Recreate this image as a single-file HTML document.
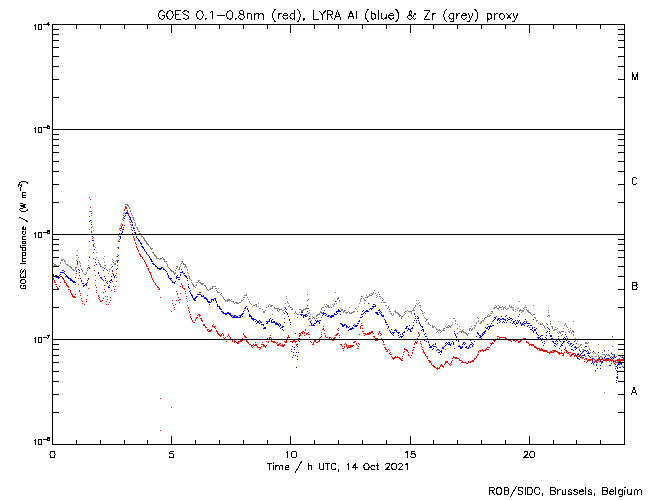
<!DOCTYPE html>
<html><head><meta charset="utf-8"><title>GOES / LYRA proxy</title>
<style>html,body{margin:0;padding:0;background:#fff;font-family:"Liberation Sans",sans-serif}svg{display:block}</style></head><body>
<svg width="650" height="500" viewBox="0 0 650 500" shape-rendering="crispEdges">
<rect x="0" y="0" width="650" height="500" fill="#fff"/>
<g fill="none" stroke-width="1" transform="translate(0,0.5)">
<path d="M53 274h1M53 275h1M54 276h1M55 275h1M55 276h1M56 275h1M56 277h1M57 277h1M58 276h1M58 277h1M58 278h1M59 275h1M59 277h1M60 272h1M60 274h1M61 272h1M62 270h1M62 272h1M63 270h1M63 272h1M64 271h1M64 273h1M65 274h1M65 276h1M66 275h1M66 276h1M67 276h1M67 277h1M68 277h1M68 278h1M69 278h1M70 278h1M70 279h1M70 280h1M71 279h1M71 280h1M72 280h1M72 281h1M73 281h1M73 282h1M74 281h1M74 282h1M75 277h1M75 282h1M76 271h1M77 261h1M77 263h1M78 269h1M79 270h1M79 272h1M79 275h1M80 278h1M81 280h1M81 281h1M82 283h1M83 283h1M83 285h1M83 286h1M84 285h1M85 284h1M86 283h1M86 284h1M86 285h1M87 280h1M87 282h1M88 278h1M89 221h1M89 241h1M89 257h1M89 268h1M90 220h1M91 224h1M91 227h1M91 231h1M92 236h1M92 240h1M93 240h1M93 244h1M93 245h1M94 249h1M95 259h1M95 262h1M96 264h1M98 272h1M98 273h1M99 275h1M100 277h1M101 277h1M101 278h1M102 279h1M103 270h1M103 280h1M104 268h1M104 276h1M105 278h1M105 280h1M106 282h1M107 281h1M107 283h1M108 286h1M108 287h1M109 281h1M109 285h1M109 287h1M110 280h1M110 282h1M111 276h1M111 279h1M111 280h1M112 266h1M112 271h1M113 274h1M113 275h1M114 276h1M114 277h1M115 275h1M116 269h1M116 273h1M117 261h1M117 265h1M118 247h1M118 255h1M118 260h1M119 239h1M119 241h1M120 236h1M120 237h1M120 238h1M121 233h1M121 234h1M122 229h1M122 231h1M122 232h1M123 227h1M123 229h1M124 216h1M124 218h1M124 225h1M125 213h1M125 215h1M126 212h1M126 213h1M127 213h1M128 213h1M128 214h1M128 215h1M129 216h1M130 217h1M130 218h1M130 219h1M131 220h1M131 221h1M132 222h1M132 224h1M132 225h1M133 227h1M133 228h1M134 228h1M134 230h1M134 232h1M135 232h1M135 233h1M136 234h1M136 236h1M136 237h1M137 238h1M138 239h1M138 240h1M139 240h1M139 241h1M140 242h1M140 243h1M141 243h1M141 244h1M141 246h1M142 246h1M142 247h1M143 247h1M143 248h1M144 249h1M144 250h1M145 251h1M146 252h1M146 253h1M147 254h1M148 255h1M149 256h1M149 257h1M150 258h1M150 259h1M151 259h1M151 260h1M151 261h1M152 261h1M152 263h1M153 263h1M153 264h1M154 264h1M155 265h1M155 266h1M156 266h1M157 267h1M157 268h1M158 268h1M159 268h1M159 269h1M160 268h1M160 269h1M161 267h1M161 268h1M162 267h1M163 268h1M163 269h1M164 269h1M165 270h1M166 271h1M167 273h1M167 274h1M168 275h1M168 276h1M168 277h1M169 278h1M170 278h1M170 279h1M171 278h1M171 280h1M172 281h1M172 282h1M173 282h1M174 282h1M174 283h1M175 281h1M176 276h1M176 277h1M176 278h1M177 275h1M177 277h1M178 277h1M178 279h1M179 277h1M179 279h1M180 272h1M180 274h1M180 275h1M181 269h1M181 272h1M182 271h1M182 272h1M183 273h1M184 273h1M184 275h1M185 275h1M185 276h1M186 276h1M186 277h1M187 278h1M187 280h1M188 284h1M188 286h1M188 287h1M189 288h1M189 291h1M190 290h1M190 292h1M190 293h1M191 294h1M191 295h1M192 295h1M192 296h1M192 297h1M193 298h1M193 299h1M194 298h1M194 299h1M194 300h1M195 297h1M195 298h1M195 300h1M196 296h1M196 297h1M197 294h1M197 296h1M198 294h1M199 292h1M199 294h1M200 292h1M200 294h1M201 295h1M201 296h1M202 296h1M203 295h1M203 296h1M204 297h1M204 298h1M205 297h1M205 298h1M206 298h1M206 299h1M207 299h1M207 300h1M207 301h1M208 301h1M208 302h1M209 301h1M209 302h1M209 304h1M210 302h1M211 299h1M211 300h1M211 301h1M212 299h1M213 299h1M213 300h1M214 298h1M215 298h1M215 299h1M215 300h1M216 301h1M216 302h1M217 304h1M217 305h1M217 306h1M218 306h1M219 306h1M219 307h1M219 308h1M220 308h1M220 309h1M221 309h1M221 311h1M222 311h1M222 312h1M223 312h1M223 313h1M224 313h1M225 313h1M225 314h1M226 313h1M226 314h1M227 312h1M227 313h1M228 312h1M228 313h1M229 313h1M229 314h1M230 313h1M230 314h1M230 315h1M231 315h1M231 316h1M232 315h1M232 317h1M233 316h1M233 317h1M234 315h1M234 316h1M234 317h1M235 315h1M235 317h1M236 316h1M236 317h1M237 316h1M237 317h1M238 317h1M239 315h1M239 317h1M240 315h1M240 316h1M240 317h1M241 314h1M241 315h1M242 313h1M242 314h1M242 316h1M243 311h1M243 313h1M244 308h1M244 310h1M245 307h1M245 308h1M246 306h1M247 308h1M247 309h1M248 310h1M248 311h1M249 314h1M249 315h1M249 316h1M250 315h1M250 316h1M251 316h1M251 317h1M251 318h1M252 318h1M252 319h1M253 318h1M253 319h1M253 320h1M254 319h1M255 319h1M255 321h1M256 320h1M256 323h1M257 321h1M257 322h1M258 321h1M258 322h1M259 320h1M259 323h1M260 321h1M260 322h1M261 322h1M261 324h1M262 324h1M263 324h1M263 325h1M263 328h1M264 327h1M264 328h1M265 327h1M265 328h1M266 321h1M266 323h1M267 321h1M267 322h1M267 323h1M268 321h1M269 319h1M269 320h1M269 321h1M270 318h1M271 320h1M271 321h1M271 322h1M272 319h1M272 322h1M273 321h1M273 322h1M274 321h1M274 322h1M275 323h1M275 324h1M276 322h1M276 323h1M276 324h1M277 323h1M277 324h1M278 324h1M278 325h1M279 323h1M279 326h1M280 324h1M280 325h1M280 328h1M281 327h1M282 326h1M282 327h1M282 329h1M283 326h1M283 330h1M284 313h1M284 318h1M284 322h1M285 308h1M285 311h1M286 309h1M286 312h1M287 313h1M287 314h1M288 316h1M289 319h1M289 320h1M290 322h1M290 324h1M291 349h1M291 351h1M292 346h1M292 357h1M293 352h1M293 355h1M294 347h1M294 349h1M295 333h1M295 342h1M295 355h1M296 352h1M296 367h1M297 346h1M297 356h1M297 359h1M298 352h1M299 333h1M299 338h1M299 341h1M300 314h1M301 312h1M301 314h1M301 315h1M302 312h1M302 314h1M303 315h1M303 316h1M303 317h1M304 315h1M305 314h1M305 315h1M305 316h1M306 314h1M306 316h1M307 305h1M307 311h1M308 308h1M308 313h1M309 316h1M309 318h1M310 321h1M310 322h1M311 323h1M311 324h1M311 325h1M312 325h1M313 324h1M313 325h1M314 323h1M314 325h1M315 320h1M315 323h1M316 321h1M316 322h1M317 320h1M317 321h1M318 321h1M319 320h1M319 322h1M319 323h1M320 320h1M321 312h1M321 317h1M322 313h1M322 315h1M323 312h1M323 313h1M323 314h1M324 310h1M324 313h1M325 313h1M325 315h1M326 314h1M327 316h1M328 315h1M328 316h1M329 315h1M330 316h1M330 317h1M331 315h1M331 316h1M331 317h1M332 315h1M332 316h1M333 315h1M333 316h1M334 313h1M334 314h1M335 301h1M335 314h1M336 311h1M336 312h1M336 314h1M337 311h1M337 313h1M338 309h1M338 310h1M338 311h1M339 310h1M339 311h1M340 311h1M340 314h1M340 323h1M341 323h1M341 324h1M342 324h1M342 325h1M342 326h1M343 325h1M343 326h1M344 324h1M344 325h1M345 324h1M346 325h1M346 326h1M346 327h1M347 326h1M348 327h1M348 330h1M349 326h1M349 329h1M350 328h1M350 329h1M351 328h1M351 329h1M352 327h1M352 328h1M353 325h1M353 328h1M354 324h1M354 326h1M355 325h1M355 326h1M356 325h1M356 326h1M357 323h1M357 325h1M358 321h1M358 323h1M359 320h1M359 321h1M360 317h1M361 314h1M361 317h1M362 311h1M362 314h1M362 316h1M363 310h1M363 313h1M364 312h1M365 311h1M365 313h1M366 310h1M366 311h1M367 310h1M367 311h1M368 303h1M368 311h1M369 309h1M370 308h1M371 308h1M371 309h1M372 306h1M372 308h1M373 304h1M373 306h1M373 307h1M374 304h1M374 306h1M375 305h1M375 306h1M375 312h1M376 312h1M376 313h1M377 312h1M377 313h1M377 314h1M378 310h1M378 314h1M379 309h1M379 310h1M379 312h1M380 311h1M380 313h1M381 312h1M381 314h1M381 315h1M382 315h1M382 316h1M383 315h1M383 316h1M384 319h1M385 320h1M385 321h1M385 322h1M386 322h1M386 324h1M387 324h1M387 328h1M388 326h1M388 327h1M389 330h1M390 331h1M390 332h1M391 329h1M391 333h1M392 332h1M392 334h1M393 332h1M393 333h1M393 335h1M394 330h1M394 332h1M395 329h1M395 330h1M396 330h1M396 331h1M397 332h1M398 332h1M398 333h1M398 335h1M399 332h1M399 337h1M400 334h1M400 336h1M401 336h1M401 337h1M402 333h1M402 334h1M402 336h1M403 332h1M403 335h1M404 331h1M404 332h1M405 328h1M406 326h1M406 327h1M406 328h1M407 326h1M407 330h1M408 328h1M408 329h1M409 325h1M409 329h1M410 329h1M410 330h1M410 331h1M411 328h1M411 331h1M412 327h1M412 328h1M413 322h1M413 325h1M414 313h1M414 314h1M414 320h1M415 316h1M415 318h1M416 320h1M416 322h1M417 316h1M417 318h1M418 317h1M418 318h1M418 320h1M419 322h1M419 323h1M420 324h1M420 325h1M421 326h1M421 330h1M422 326h1M422 327h1M422 329h1M423 329h1M423 330h1M423 331h1M424 334h1M424 340h1M425 333h1M425 336h1M426 336h1M426 341h1M427 338h1M427 339h1M428 341h1M428 342h1M429 344h1M429 345h1M429 347h1M430 346h1M430 347h1M431 346h1M431 347h1M432 345h1M432 349h1M433 344h1M433 346h1M433 348h1M434 346h1M435 343h1M435 344h1M435 346h1M436 347h1M436 350h1M437 349h1M438 349h1M438 352h1M439 350h1M439 352h1M440 351h1M440 354h1M441 350h1M441 351h1M441 352h1M442 347h1M442 348h1M443 347h1M443 348h1M444 346h1M445 343h1M445 345h1M445 349h1M446 342h1M446 344h1M447 343h1M448 342h1M448 344h1M449 342h1M449 343h1M449 344h1M450 344h1M450 345h1M451 343h1M452 341h1M453 342h1M453 343h1M453 344h1M454 331h1M454 333h1M454 348h1M455 321h1M455 334h1M455 335h1M456 336h1M456 337h1M456 340h1M457 333h1M457 339h1M458 340h1M458 341h1M458 346h1M459 345h1M459 346h1M460 346h1M460 347h1M460 348h1M461 347h1M461 348h1M462 344h1M462 346h1M462 347h1M463 342h1M463 343h1M464 342h1M464 344h1M465 343h1M465 347h1M466 346h1M466 347h1M467 348h1M468 347h1M468 348h1M469 345h1M469 346h1M470 340h1M470 344h1M470 347h1M471 342h1M471 344h1M472 343h1M472 345h1M472 346h1M473 344h1M474 341h1M475 339h1M476 336h1M476 339h1M477 332h1M477 333h1M478 333h1M478 334h1M479 335h1M479 337h1M480 335h1M480 336h1M480 337h1M481 336h1M481 338h1M482 333h1M482 334h1M482 335h1M483 332h1M483 334h1M484 331h1M484 332h1M484 333h1M485 327h1M485 330h1M485 331h1M486 328h1M487 324h1M487 327h1M487 328h1M488 326h1M488 329h1M489 326h1M489 327h1M489 328h1M490 325h1M490 326h1M491 323h1M491 326h1M492 321h1M492 325h1M493 320h1M493 325h1M494 317h1M494 319h1M495 317h1M495 318h1M496 316h1M497 319h1M497 320h1M497 323h1M498 318h1M498 319h1M499 318h1M499 320h1M499 322h1M500 319h1M500 321h1M501 316h1M501 319h1M502 318h1M502 322h1M503 318h1M503 319h1M503 321h1M504 319h1M504 322h1M505 316h1M505 319h1M505 320h1M506 315h1M506 322h1M507 318h1M507 320h1M508 319h1M509 317h1M509 319h1M510 318h1M510 322h1M511 318h1M511 320h1M512 319h1M512 323h1M513 321h1M513 322h1M514 321h1M514 323h1M515 320h1M515 324h1M516 322h1M516 323h1M516 326h1M517 320h1M517 323h1M518 316h1M518 321h1M518 322h1M519 314h1M519 320h1M520 322h1M520 323h1M521 324h1M521 325h1M522 323h1M522 324h1M523 322h1M523 324h1M524 321h1M524 323h1M524 325h1M525 319h1M525 323h1M526 321h1M526 322h1M527 323h1M527 326h1M528 323h1M528 325h1M529 323h1M529 327h1M530 325h1M530 329h1M531 325h1M531 329h1M532 327h1M532 328h1M532 330h1M533 319h1M533 331h1M533 332h1M534 327h1M534 329h1M534 330h1M535 329h1M535 330h1M536 328h1M536 332h1M536 333h1M537 334h1M537 337h1M538 335h1M538 337h1M538 338h1M539 337h1M540 336h1M540 338h1M541 335h1M541 340h1M542 335h1M542 338h1M542 342h1M543 339h1M543 345h1M544 341h1M544 343h1M545 337h1M545 339h1M546 332h1M546 335h1M546 338h1M547 324h1M547 327h1M547 331h1M548 328h1M549 329h1M549 331h1M549 333h1M550 335h1M550 336h1M551 335h1M551 336h1M551 338h1M552 338h1M552 341h1M553 341h1M553 342h1M554 343h1M554 345h1M555 341h1M555 343h1M555 346h1M556 340h1M556 344h1M557 341h1M557 343h1M558 336h1M558 338h1M559 339h1M559 340h1M559 348h1M560 341h1M560 346h1M561 344h1M561 345h1M561 350h1M562 343h1M562 345h1M563 338h1M563 341h1M563 342h1M564 337h1M564 341h1M565 334h1M565 338h1M565 339h1M566 336h1M566 340h1M567 338h1M567 342h1M568 341h1M568 343h1M569 341h1M569 345h1M570 343h1M570 344h1M571 343h1M571 346h1M571 349h1M572 345h1M572 349h1M573 331h1M573 344h1M573 350h1M574 341h1M574 347h1M575 346h1M575 347h1M575 349h1M576 343h1M576 348h1M577 354h1M577 357h1M577 358h1M578 354h1M578 358h1M579 350h1M579 359h1M580 351h1M580 354h1M580 357h1M581 353h1M582 352h1M582 355h1M583 351h1M583 355h1M584 350h1M584 354h1M584 355h1M585 346h1M585 350h1M586 346h1M586 351h1M587 350h1M587 353h1M588 352h1M588 353h1M588 355h1M589 353h1M589 356h1M590 357h1M590 359h1M590 360h1M591 359h1M591 363h1M592 358h1M592 361h1M592 362h1M593 351h1M593 363h1M594 361h1M594 362h1M595 360h1M595 370h1M596 361h1M596 364h1M596 365h1M597 362h1M597 368h1M598 352h1M598 356h1M598 358h1M599 357h1M599 359h1M600 360h1M600 365h1M600 368h1M601 359h1M601 363h1M602 358h1M602 361h1M602 362h1M603 359h1M603 360h1M604 350h1M604 354h1M604 357h1M605 355h1M605 356h1M606 354h1M606 358h1M606 359h1M607 355h1M607 358h1M608 355h1M608 358h1M608 359h1M609 356h1M609 365h1M610 357h1M610 365h1M611 353h1M611 358h1M611 363h1M612 336h1M612 354h1M612 357h1M613 356h1M613 358h1M613 361h1M614 355h1M614 356h1M615 357h1M615 364h1M615 368h1M616 366h1M616 370h1M616 377h1M616 380h1M616 382h1M617 365h1M617 367h1M617 368h1M617 371h1M617 372h1M617 374h1M617 376h1M617 377h1M617 378h1M618 363h1M618 364h1M619 360h1M619 364h1M619 367h1M620 363h1M620 367h1M621 363h1M621 364h1M622 357h1M622 366h1M623 360h1M623 367h1" stroke="#0000ff"/>
<path d="M53 263h1M54 264h1M54 265h1M55 264h1M55 265h1M56 265h1M57 266h1M58 265h1M58 266h1M59 265h1M60 262h1M60 263h1M61 259h1M61 260h1M62 259h1M62 260h1M63 259h1M64 260h1M64 261h1M65 261h1M65 263h1M66 264h1M67 264h1M67 265h1M68 265h1M69 266h1M70 266h1M70 267h1M71 267h1M71 268h1M72 269h1M73 269h1M73 270h1M74 270h1M75 267h1M75 268h1M75 269h1M76 255h1M76 260h1M76 270h1M77 250h1M77 255h1M78 257h1M79 261h1M79 262h1M80 263h1M80 265h1M80 266h1M81 268h1M81 269h1M82 270h1M82 271h1M83 273h1M84 274h1M85 274h1M86 272h1M86 273h1M87 268h1M87 270h1M88 260h1M88 265h1M88 267h1M89 211h1M89 229h1M89 256h1M90 211h1M91 211h1M91 215h1M91 220h1M92 226h1M93 230h1M93 237h1M94 243h1M95 247h1M96 252h1M96 257h1M98 260h1M98 262h1M99 263h1M99 264h1M100 264h1M100 265h1M100 266h1M101 266h1M102 267h1M103 258h1M103 267h1M104 256h1M104 262h1M104 265h1M105 265h1M105 267h1M106 269h1M107 270h1M108 273h1M109 269h1M109 271h1M110 269h1M111 264h1M111 267h1M112 259h1M112 261h1M113 260h1M113 262h1M114 263h1M114 264h1M115 261h1M115 263h1M115 264h1M116 256h1M116 260h1M117 247h1M117 254h1M118 235h1M118 240h1M119 228h1M119 229h1M120 225h1M121 223h1M121 224h1M122 219h1M123 213h1M123 215h1M123 218h1M124 209h1M124 212h1M125 204h1M125 208h1M126 204h1M127 204h1M127 205h1M128 205h1M128 206h1M129 207h1M129 208h1M130 210h1M130 211h1M131 213h1M131 214h1M132 215h1M132 217h1M133 217h1M133 218h1M133 219h1M134 220h1M134 222h1M135 223h1M135 224h1M135 225h1M136 227h1M137 227h1M137 228h1M137 229h1M138 230h1M138 231h1M139 231h1M139 233h1M140 233h1M140 234h1M141 235h1M141 236h1M142 236h1M143 237h1M143 238h1M144 238h1M144 239h1M144 240h1M145 240h1M145 241h1M146 241h1M146 242h1M146 243h1M147 243h1M147 244h1M148 244h1M148 245h1M149 246h1M150 247h1M150 248h1M151 248h1M151 249h1M152 248h1M152 252h1M153 252h1M153 253h1M154 254h1M154 255h1M155 255h1M155 256h1M156 256h1M156 257h1M156 258h1M157 258h1M158 258h1M159 259h1M160 258h1M160 259h1M161 258h1M162 257h1M163 258h1M163 259h1M164 259h1M164 260h1M164 261h1M165 261h1M166 261h1M166 263h1M167 264h1M167 265h1M167 266h1M168 267h1M169 268h1M170 269h1M170 270h1M171 270h1M171 271h1M172 271h1M173 271h1M173 272h1M174 273h1M174 274h1M175 270h1M175 272h1M175 273h1M176 266h1M176 268h1M177 266h1M177 267h1M178 269h1M179 267h1M179 268h1M179 269h1M180 264h1M180 266h1M181 261h1M181 263h1M182 261h1M182 262h1M183 263h1M183 264h1M184 264h1M184 267h1M185 264h1M185 265h1M185 266h1M186 266h1M186 267h1M187 269h1M187 270h1M187 272h1M188 273h1M188 275h1M189 276h1M189 277h1M189 278h1M190 279h1M191 280h1M191 282h1M192 283h1M192 284h1M193 284h1M193 285h1M193 286h1M194 286h1M195 285h1M195 287h1M196 282h1M196 284h1M196 285h1M197 282h1M198 280h1M198 281h1M199 280h1M199 282h1M200 282h1M200 283h1M201 283h1M201 284h1M202 283h1M202 284h1M203 283h1M204 285h1M205 285h1M205 286h1M206 287h1M206 288h1M207 289h1M208 290h1M209 289h1M210 288h1M210 289h1M211 288h1M212 286h1M212 287h1M212 288h1M213 286h1M214 286h1M215 286h1M215 288h1M216 288h1M216 290h1M217 291h1M217 292h1M218 288h1M218 292h1M219 292h1M220 294h1M221 293h1M221 295h1M222 296h1M223 297h1M223 298h1M224 299h1M225 300h1M225 301h1M226 300h1M227 299h1M227 300h1M227 301h1M228 299h1M228 300h1M229 299h1M229 300h1M230 300h1M231 299h1M231 301h1M232 301h1M233 301h1M233 302h1M234 303h1M235 302h1M236 302h1M236 303h1M237 302h1M237 303h1M238 303h1M239 302h1M240 302h1M241 300h1M241 301h1M242 300h1M243 297h1M243 299h1M244 295h1M244 297h1M245 295h1M246 294h1M246 295h1M247 297h1M248 299h1M249 301h1M249 302h1M250 303h1M251 304h1M252 306h1M253 305h1M254 305h1M255 304h1M256 304h1M256 305h1M256 306h1M258 303h1M258 306h1M259 308h1M260 308h1M262 309h1M263 311h1M263 312h1M264 311h1M264 312h1M265 310h1M266 307h1M268 305h1M268 306h1M269 304h1M270 305h1M270 306h1M271 305h1M271 306h1M272 305h1M272 310h1M272 314h1M274 307h1M274 308h1M275 308h1M276 308h1M277 308h1M277 309h1M277 310h1M278 308h1M278 311h1M279 309h1M279 310h1M280 309h1M281 309h1M282 310h1M282 314h1M283 310h1M283 312h1M284 307h1M284 309h1M285 303h1M285 307h1M286 296h1M286 298h1M287 301h1M287 302h1M288 303h1M288 306h1M289 305h1M289 306h1M290 307h1M291 307h1M291 309h1M292 308h1M292 309h1M294 313h1M295 311h1M295 312h1M296 313h1M297 314h1M297 317h1M298 314h1M299 309h1M299 312h1M300 309h1M301 310h1M301 311h1M302 310h1M302 311h1M303 309h1M303 310h1M304 309h1M305 308h1M305 309h1M306 307h1M306 308h1M307 294h1M307 300h1M308 299h1M308 308h1M309 310h1M309 312h1M310 314h1M310 318h1M311 320h1M312 316h1M312 318h1M313 317h1M314 317h1M314 318h1M316 315h1M316 316h1M316 318h1M317 314h1M317 315h1M318 314h1M318 317h1M319 313h1M319 314h1M320 311h1M320 312h1M321 308h1M321 309h1M322 307h1M323 307h1M324 304h1M325 306h1M326 304h1M326 307h1M327 305h1M327 306h1M328 305h1M328 306h1M328 307h1M329 307h1M330 306h1M331 307h1M332 304h1M333 305h1M333 306h1M334 303h1M334 304h1M335 292h1M336 301h1M336 303h1M337 298h1M337 299h1M338 297h1M338 298h1M339 300h1M339 301h1M340 308h1M341 309h1M341 310h1M342 309h1M342 310h1M343 311h1M343 312h1M344 310h1M344 311h1M345 310h1M345 312h1M346 312h1M346 313h1M347 312h1M348 311h1M349 307h1M349 312h1M349 313h1M350 313h1M351 312h1M351 313h1M352 312h1M353 311h1M353 312h1M354 311h1M355 308h1M356 309h1M357 311h1M358 306h1M359 303h1M360 299h1M360 300h1M360 301h1M361 296h1M361 298h1M362 296h1M363 298h1M364 299h1M364 300h1M364 303h1M365 297h1M365 300h1M366 295h1M366 297h1M367 296h1M367 297h1M368 296h1M369 294h1M369 295h1M370 295h1M371 293h1M371 295h1M372 293h1M372 294h1M373 292h1M373 293h1M374 290h1M375 293h1M376 295h1M376 297h1M377 294h1M377 296h1M378 292h1M379 294h1M379 296h1M380 296h1M380 298h1M381 297h1M381 302h1M382 298h1M382 300h1M383 299h1M383 302h1M384 302h1M385 302h1M385 305h1M386 305h1M387 308h1M388 306h1M388 307h1M389 309h1M389 311h1M390 311h1M390 313h1M391 313h1M391 314h1M392 315h1M393 313h1M393 314h1M394 311h1M395 310h1M395 311h1M395 312h1M396 312h1M397 312h1M397 313h1M398 313h1M398 314h1M399 314h1M399 315h1M399 316h1M400 315h1M401 316h1M401 317h1M401 318h1M402 316h1M403 315h1M404 312h1M404 314h1M405 308h1M405 311h1M405 313h1M406 311h1M407 310h1M408 311h1M408 316h1M409 311h1M410 311h1M411 311h1M411 312h1M411 313h1M412 310h1M413 308h1M413 309h1M413 310h1M414 307h1M414 310h1M415 305h1M415 306h1M416 300h1M416 303h1M417 304h1M418 300h1M418 303h1M419 302h1M419 305h1M420 305h1M420 307h1M420 309h1M421 310h1M422 311h1M422 313h1M423 313h1M423 315h1M424 312h1M424 317h1M425 318h1M425 321h1M426 319h1M426 320h1M427 319h1M428 322h1M428 323h1M428 324h1M429 324h1M430 325h1M432 325h1M432 326h1M432 327h1M433 326h1M433 327h1M434 326h1M435 327h1M436 328h1M436 329h1M436 332h1M437 329h1M437 331h1M438 330h1M438 332h1M439 329h1M439 330h1M440 330h1M440 332h1M441 331h1M442 330h1M443 328h1M443 329h1M443 330h1M444 328h1M444 330h1M445 326h1M446 327h1M447 326h1M447 327h1M448 325h1M448 327h1M449 325h1M449 326h1M450 326h1M450 327h1M451 325h1M452 322h1M452 324h1M453 318h1M454 318h1M455 320h1M455 321h1M455 323h1M457 324h1M457 328h1M459 326h1M459 331h1M460 329h1M460 331h1M461 331h1M461 332h1M462 330h1M462 331h1M463 329h1M463 331h1M463 332h1M464 332h1M465 332h1M465 333h1M466 333h1M466 334h1M467 334h1M467 335h1M468 333h1M469 328h1M469 329h1M469 330h1M470 328h1M471 326h1M471 329h1M471 330h1M472 328h1M472 329h1M474 325h1M474 327h1M474 328h1M475 325h1M475 326h1M476 322h1M476 323h1M477 317h1M478 318h1M478 320h1M478 321h1M479 323h1M480 322h1M480 323h1M481 321h1M481 322h1M482 318h1M482 320h1M483 320h1M483 321h1M484 318h1M484 319h1M485 317h1M486 317h1M487 315h1M487 316h1M488 314h1M488 316h1M489 315h1M489 316h1M490 313h1M490 315h1M491 311h1M491 313h1M492 311h1M492 312h1M493 308h1M494 307h1M494 308h1M495 305h1M495 307h1M496 306h1M496 307h1M497 308h1M498 305h1M498 308h1M498 309h1M499 306h1M499 307h1M500 307h1M501 307h1M501 309h1M502 306h1M503 307h1M503 308h1M503 309h1M504 307h1M505 306h1M505 308h1M506 309h1M507 308h1M508 308h1M509 305h1M509 306h1M510 307h1M511 306h1M511 307h1M512 307h1M512 309h1M513 307h1M513 309h1M513 310h1M515 309h1M515 311h1M517 308h1M517 310h1M518 308h1M519 301h1M519 310h1M519 311h1M520 309h1M520 310h1M521 310h1M521 312h1M522 310h1M522 311h1M523 308h1M523 310h1M523 311h1M524 307h1M524 309h1M525 305h1M525 307h1M526 307h1M526 309h1M527 310h1M527 311h1M528 310h1M528 311h1M528 312h1M529 312h1M530 312h1M530 313h1M531 314h1M532 315h1M533 305h1M533 314h1M534 314h1M534 317h1M535 317h1M535 318h1M536 320h1M536 321h1M537 320h1M538 323h1M540 323h1M540 324h1M541 324h1M542 323h1M542 324h1M543 325h1M544 326h1M544 327h1M545 328h1M546 323h1M547 316h1M548 310h1M548 312h1M548 315h1M549 315h1M549 316h1M550 321h1M550 323h1M550 324h1M551 326h1M552 326h1M552 327h1M552 328h1M553 330h1M554 329h1M554 330h1M555 327h1M555 329h1M556 329h1M557 328h1M557 332h1M558 321h1M558 333h1M559 331h1M559 332h1M560 332h1M560 333h1M561 331h1M561 335h1M562 331h1M562 334h1M563 328h1M563 331h1M564 325h1M565 323h1M565 324h1M565 332h1M566 325h1M566 326h1M567 327h1M568 329h1M568 331h1M569 331h1M569 332h1M570 328h1M570 330h1M571 332h1M571 333h1M572 330h1M572 331h1M573 321h1M573 332h1M573 334h1M573 335h1M575 338h1M575 339h1M575 340h1M576 347h1M577 341h1M577 347h1M578 344h1M578 347h1M579 346h1M579 349h1M580 344h1M580 345h1M581 344h1M581 347h1M582 349h1M582 351h1M583 349h1M583 350h1M584 347h1M585 342h1M585 343h1M586 342h1M586 343h1M587 339h1M587 343h1M588 342h1M588 346h1M588 351h1M589 348h1M589 349h1M590 350h1M590 352h1M591 356h1M592 352h1M592 356h1M593 353h1M593 364h1M594 352h1M595 353h1M595 356h1M595 371h1M596 356h1M596 362h1M597 354h1M598 344h1M598 355h1M598 356h1M599 358h1M600 356h1M600 359h1M601 356h1M601 357h1M602 352h1M602 354h1M602 357h1M603 354h1M604 351h1M604 354h1M604 392h1M605 355h1M606 359h1M606 361h1M607 355h1M608 350h1M608 354h1M608 355h1M609 355h1M609 356h1M609 358h1M611 352h1M611 356h1M612 346h1M613 354h1M613 356h1M613 357h1M614 354h1M614 357h1M615 360h1M615 361h1M615 366h1M616 356h1M616 360h1M617 361h1M617 362h1M617 364h1M618 361h1M619 363h1M620 356h1M620 359h1M621 357h1M622 353h1M622 356h1M623 357h1" stroke="#808080"/>
<path d="M53 278h1M53 279h1M54 280h1M54 281h1M54 282h1M55 282h1M55 284h1M56 284h1M56 286h1M57 287h1M57 288h1M58 288h1M58 289h1M59 286h1M60 276h1M60 282h1M61 276h1M62 277h1M62 278h1M63 278h1M63 279h1M64 280h1M64 281h1M64 282h1M65 282h1M66 283h1M66 284h1M66 285h1M67 285h1M67 286h1M68 286h1M68 287h1M68 289h1M69 289h1M70 290h1M70 291h1M70 292h1M71 293h1M71 294h1M72 294h1M72 295h1M72 296h1M73 296h1M73 297h1M74 296h1M74 297h1M75 284h1M75 294h1M75 297h1M76 267h1M76 273h1M77 262h1M77 264h1M78 278h1M78 284h1M79 290h1M79 291h1M80 293h1M80 295h1M81 298h1M81 300h1M82 301h1M82 303h1M84 304h1M86 299h1M86 301h1M87 295h1M88 279h1M88 288h1M89 197h1M89 216h1M89 267h1M90 199h1M90 207h1M91 211h1M91 213h1M91 222h1M91 231h1M91 232h1M92 238h1M93 246h1M93 252h1M93 258h1M94 265h1M94 270h1M95 275h1M95 280h1M95 285h1M96 287h1M96 290h1M96 292h1M98 295h1M98 296h1M98 298h1M99 297h1M99 299h1M100 300h1M100 301h1M101 301h1M102 300h1M103 292h1M103 298h1M104 285h1M104 289h1M105 291h1M105 296h1M106 301h1M106 304h1M107 296h1M107 299h1M108 304h1M109 302h1M110 297h1M110 300h1M111 290h1M112 270h1M112 273h1M112 281h1M113 286h1M114 289h1M114 291h1M115 286h1M116 273h1M116 277h1M116 281h1M117 256h1M117 260h1M117 262h1M117 268h1M118 241h1M118 248h1M119 233h1M119 236h1M119 239h1M120 228h1M120 230h1M121 226h1M121 227h1M121 228h1M122 224h1M122 225h1M123 215h1M123 217h1M123 220h1M124 209h1M124 210h1M125 206h1M125 207h1M125 208h1M126 207h1M126 208h1M127 210h1M127 211h1M127 212h1M128 214h1M128 215h1M129 217h1M129 219h1M129 221h1M130 222h1M130 224h1M131 225h1M131 227h1M131 229h1M132 230h1M132 233h1M133 234h1M133 236h1M133 237h1M134 238h1M134 239h1M134 240h1M135 242h1M135 243h1M136 244h1M136 246h1M136 247h1M137 248h1M137 249h1M138 250h1M138 251h1M139 253h1M139 254h1M140 254h1M140 255h1M140 256h1M141 256h1M142 257h1M142 258h1M143 259h1M144 260h1M144 261h1M145 262h1M145 263h1M146 264h1M146 265h1M146 266h1M147 266h1M147 268h1M148 268h1M148 269h1M148 270h1M149 271h1M149 272h1M150 272h1M150 273h1M150 274h1M151 275h1M151 276h1M151 277h1M152 278h1M152 279h1M153 280h1M153 281h1M154 282h1M155 283h1M155 284h1M156 285h1M157 286h1M157 287h1M158 287h1M158 289h1M159 288h1M159 289h1M160 297h1M160 398h1M160 430h1M171 311h1M171 407h1M172 300h1M172 303h1M173 305h1M174 307h1M174 309h1M175 304h1M176 291h1M176 300h1M177 293h1M177 294h1M178 297h1M178 300h1M179 299h1M179 302h1M180 286h1M180 293h1M180 299h1M181 283h1M181 284h1M182 285h1M182 286h1M182 287h1M183 288h1M184 288h1M184 289h1M185 291h1M185 293h1M186 296h1M186 298h1M187 301h1M187 305h1M188 307h1M188 308h1M188 310h1M189 311h1M189 312h1M190 314h1M190 316h1M190 317h1M191 318h1M191 319h1M192 320h1M192 321h1M193 322h1M194 322h1M195 319h1M195 320h1M196 317h1M196 318h1M197 315h1M197 317h1M198 314h1M199 314h1M199 315h1M199 316h1M200 315h1M200 318h1M201 318h1M201 319h1M201 320h1M202 320h1M202 321h1M203 324h1M203 325h1M204 324h1M204 325h1M205 326h1M205 327h1M206 327h1M207 329h1M207 330h1M208 329h1M208 331h1M209 330h1M209 331h1M210 330h1M210 331h1M211 329h1M211 330h1M212 325h1M212 326h1M213 324h1M213 326h1M214 326h1M214 327h1M215 326h1M215 328h1M216 330h1M216 331h1M217 331h1M217 332h1M217 333h1M218 333h1M218 334h1M219 334h1M219 335h1M220 335h1M220 336h1M221 334h1M221 335h1M222 333h1M223 334h1M223 335h1M223 337h1M224 338h1M225 337h1M225 339h1M226 339h1M226 341h1M227 336h1M227 339h1M228 334h1M228 335h1M229 336h1M230 337h1M230 338h1M231 339h1M232 339h1M232 340h1M232 341h1M233 339h1M234 340h1M234 341h1M234 342h1M235 341h1M236 342h1M237 342h1M237 343h1M238 341h1M238 342h1M238 343h1M239 341h1M240 339h1M240 340h1M240 341h1M241 340h1M241 341h1M242 338h1M242 340h1M243 333h1M243 334h1M244 335h1M244 336h1M245 336h1M245 337h1M246 337h1M246 340h1M246 341h1M247 341h1M247 342h1M248 342h1M248 343h1M249 344h1M250 344h1M251 345h1M251 346h1M252 345h1M252 347h1M253 344h1M253 346h1M254 345h1M255 342h1M255 344h1M255 345h1M256 344h1M256 345h1M257 346h1M257 347h1M258 347h1M259 347h1M259 349h1M260 347h1M260 348h1M261 344h1M261 346h1M262 342h1M262 344h1M263 344h1M263 345h1M263 346h1M264 345h1M264 346h1M265 346h1M265 347h1M266 341h1M266 345h1M267 338h1M267 339h1M268 341h1M268 342h1M269 337h1M269 338h1M269 339h1M270 335h1M270 337h1M271 338h1M271 340h1M271 341h1M272 341h1M273 341h1M273 342h1M274 341h1M274 342h1M275 342h1M276 343h1M277 342h1M277 344h1M277 345h1M278 344h1M278 345h1M279 343h1M279 344h1M280 343h1M280 345h1M281 345h1M282 344h1M282 345h1M282 346h1M283 345h1M283 346h1M284 341h1M284 344h1M284 345h1M285 341h1M285 342h1M286 340h1M286 341h1M286 342h1M287 337h1M287 338h1M288 335h1M288 336h1M288 337h1M289 337h1M290 339h1M290 341h1M291 341h1M292 341h1M292 342h1M293 340h1M293 341h1M294 340h1M294 341h1M295 341h1M295 342h1M296 341h1M296 344h1M296 345h1M297 344h1M298 338h1M298 340h1M299 335h1M299 336h1M300 333h1M300 334h1M300 335h1M301 332h1M302 331h1M302 332h1M302 333h1M303 331h1M304 332h1M304 333h1M304 335h1M305 329h1M305 330h1M306 333h1M306 334h1M307 308h1M307 315h1M307 333h1M308 319h1M308 332h1M308 334h1M309 325h1M309 334h1M309 337h1M309 339h1M310 341h1M311 342h1M312 344h1M313 342h1M313 343h1M313 344h1M314 340h1M314 341h1M315 340h1M315 341h1M316 342h1M317 342h1M318 341h1M319 338h1M319 340h1M319 341h1M320 337h1M321 332h1M321 334h1M321 336h1M322 329h1M323 326h1M323 328h1M323 329h1M324 330h1M324 333h1M325 335h1M325 336h1M326 337h1M326 339h1M327 337h1M327 339h1M328 339h1M329 337h1M329 338h1M329 339h1M330 337h1M330 339h1M331 338h1M331 339h1M332 339h1M332 340h1M333 338h1M333 340h1M334 337h1M334 338h1M335 335h1M335 337h1M336 334h1M336 335h1M337 329h1M337 333h1M337 334h1M338 328h1M338 330h1M338 333h1M339 335h1M339 337h1M340 339h1M340 344h1M341 344h1M341 345h1M342 346h1M342 348h1M343 348h1M343 350h1M344 344h1M344 346h1M344 347h1M345 343h1M346 344h1M346 345h1M346 346h1M347 347h1M347 348h1M348 345h1M348 346h1M348 347h1M349 345h1M349 347h1M350 345h1M350 346h1M350 347h1M351 345h1M351 346h1M352 345h1M352 346h1M353 342h1M353 345h1M354 339h1M354 341h1M354 342h1M355 341h1M356 343h1M356 344h1M357 345h1M357 348h1M358 343h1M358 346h1M358 348h1M359 334h1M359 344h1M360 326h1M360 327h1M360 328h1M361 323h1M361 325h1M362 325h1M362 328h1M362 331h1M363 331h1M363 333h1M364 333h1M364 335h1M365 333h1M365 334h1M366 334h1M367 333h1M367 334h1M368 333h1M368 334h1M369 332h1M369 333h1M369 334h1M370 332h1M370 333h1M371 331h1M371 332h1M372 331h1M372 332h1M373 333h1M373 336h1M374 336h1M374 337h1M375 338h1M375 339h1M375 340h1M376 338h1M376 340h1M377 338h1M377 340h1M378 333h1M378 334h1M379 331h1M379 332h1M380 333h1M380 335h1M381 334h1M381 338h1M382 340h1M383 341h1M383 342h1M383 344h1M384 344h1M384 347h1M385 347h1M385 348h1M385 349h1M386 349h1M386 351h1M387 350h1M387 351h1M388 349h1M389 350h1M389 353h1M390 352h1M390 354h1M391 354h1M391 356h1M392 357h1M392 358h1M393 358h1M393 359h1M394 357h1M394 358h1M395 356h1M395 357h1M396 357h1M397 356h1M397 357h1M398 357h1M399 357h1M399 358h1M400 358h1M400 359h1M401 359h1M401 360h1M402 356h1M402 358h1M402 360h1M403 352h1M403 354h1M404 348h1M404 349h1M404 351h1M405 349h1M406 349h1M406 350h1M407 350h1M407 351h1M408 352h1M408 354h1M408 355h1M409 355h1M410 357h1M411 355h1M412 350h1M412 352h1M412 353h1M413 347h1M413 349h1M414 343h1M414 344h1M414 347h1M415 341h1M415 342h1M416 342h1M416 343h1M417 338h1M417 341h1M418 332h1M418 333h1M418 336h1M419 334h1M419 335h1M420 339h1M420 341h1M420 343h1M421 344h1M421 346h1M422 347h1M422 349h1M423 350h1M423 351h1M423 352h1M424 352h1M424 353h1M425 354h1M425 355h1M426 356h1M427 356h1M427 357h1M427 358h1M428 360h1M429 360h1M429 361h1M429 362h1M430 361h1M430 362h1M431 363h1M431 364h1M432 365h1M433 365h1M433 366h1M434 366h1M434 367h1M435 367h1M436 368h1M437 367h1M437 368h1M437 369h1M438 368h1M439 367h1M439 368h1M440 365h1M440 366h1M441 364h1M441 365h1M442 365h1M442 366h1M443 366h1M443 367h1M444 364h1M445 361h1M445 362h1M445 363h1M446 361h1M446 362h1M447 361h1M447 362h1M448 363h1M449 364h1M450 363h1M450 365h1M451 361h1M451 362h1M451 364h1M452 358h1M452 360h1M453 356h1M453 357h1M454 357h1M455 357h1M455 358h1M456 357h1M456 358h1M457 358h1M458 358h1M459 359h1M459 360h1M460 360h1M461 360h1M461 362h1M462 361h1M462 362h1M463 362h1M464 362h1M465 362h1M466 363h1M467 363h1M468 361h1M468 362h1M469 362h1M470 361h1M470 362h1M471 361h1M472 360h1M472 361h1M473 360h1M473 361h1M474 358h1M474 359h1M475 358h1M476 356h1M476 357h1M477 354h1M477 355h1M478 351h1M478 352h1M478 354h1M479 350h1M480 350h1M480 351h1M481 350h1M482 349h1M482 350h1M483 350h1M483 351h1M484 350h1M485 349h1M485 350h1M486 348h1M486 349h1M487 347h1M487 349h1M488 347h1M488 349h1M489 347h1M490 343h1M490 345h1M491 343h1M491 344h1M492 342h1M492 343h1M493 340h1M493 343h1M494 340h1M494 341h1M495 339h1M495 340h1M496 339h1M497 336h1M497 338h1M498 336h1M499 337h1M499 338h1M500 337h1M501 337h1M502 337h1M503 337h1M504 337h1M504 339h1M505 337h1M505 338h1M506 338h1M507 339h1M508 340h1M509 339h1M509 340h1M510 339h1M510 340h1M511 341h1M512 339h1M513 339h1M513 340h1M514 339h1M514 340h1M515 339h1M515 341h1M516 340h1M517 340h1M518 341h1M518 342h1M519 341h1M519 342h1M520 340h1M520 341h1M521 340h1M522 339h1M523 338h1M524 338h1M524 339h1M525 338h1M525 339h1M526 341h1M526 342h1M527 342h1M528 342h1M528 343h1M529 344h1M529 345h1M530 344h1M531 344h1M531 345h1M532 344h1M532 345h1M533 344h1M533 345h1M534 346h1M534 347h1M535 346h1M535 347h1M536 347h1M536 348h1M537 348h1M537 349h1M538 348h1M539 348h1M539 349h1M539 350h1M540 349h1M540 350h1M541 348h1M541 349h1M541 350h1M542 349h1M542 350h1M543 350h1M543 351h1M544 350h1M544 351h1M545 350h1M545 351h1M546 350h1M546 351h1M547 351h1M547 352h1M548 352h1M549 352h1M549 353h1M550 351h1M550 352h1M551 351h1M551 352h1M552 350h1M552 352h1M553 350h1M553 351h1M553 352h1M554 350h1M554 351h1M555 350h1M555 351h1M556 351h1M557 351h1M557 352h1M558 352h1M558 353h1M559 352h1M559 353h1M559 354h1M560 353h1M561 352h1M561 353h1M562 353h1M562 355h1M563 353h1M563 354h1M563 355h1M564 349h1M564 352h1M565 347h1M565 348h1M565 350h1M566 350h1M566 351h1M566 352h1M567 351h1M567 353h1M568 352h1M568 353h1M569 352h1M569 354h1M570 352h1M570 355h1M570 356h1M571 354h1M571 355h1M572 353h1M572 354h1M573 353h1M573 354h1M574 353h1M574 355h1M574 356h1M575 354h1M575 355h1M576 355h1M576 356h1M577 355h1M578 353h1M578 356h1M579 355h1M579 356h1M580 355h1M581 356h1M581 357h1M582 357h1M582 358h1M583 357h1M584 359h1M584 361h1M585 356h1M585 358h1M586 358h1M586 359h1M586 362h1M587 360h1M587 361h1M588 359h1M588 360h1M589 359h1M589 360h1M590 359h1M590 360h1M591 359h1M592 359h1M592 360h1M593 358h1M594 359h1M594 361h1M595 360h1M595 361h1M596 360h1M596 361h1M597 359h1M597 360h1M597 362h1M598 359h1M598 360h1M599 358h1M599 361h1M600 359h1M600 361h1M601 361h1M601 362h1M601 363h1M602 359h1M603 359h1M604 358h1M604 360h1M605 359h1M605 360h1M606 359h1M606 360h1M607 359h1M607 360h1M608 359h1M608 360h1M609 359h1M609 361h1M610 359h1M610 360h1M611 360h1M611 361h1M612 359h1M612 360h1M613 360h1M613 362h1M614 361h1M614 363h1M615 360h1M615 362h1M616 360h1M616 362h1M617 359h1M617 360h1M618 359h1M618 360h1M619 358h1M619 359h1M619 361h1M620 360h1M620 361h1M621 359h1M621 360h1M622 359h1M622 360h1M623 358h1M623 359h1" stroke="#ff0000"/>
</g>
<path d="M52 24h573v1h-573zM52 444h573v1h-573zM52 24h1v421h-1zM624 24h1v421h-1zM52 129h573v1h-573zM52 234h573v1h-573zM52 339h573v1h-573zM52 436h1v9h-1zM52 24h1v9h-1zM76 440h1v5h-1zM76 24h1v5h-1zM100 440h1v5h-1zM100 24h1v5h-1zM124 440h1v5h-1zM124 24h1v5h-1zM147 440h1v5h-1zM147 24h1v5h-1zM171 436h1v9h-1zM171 24h1v9h-1zM195 440h1v5h-1zM195 24h1v5h-1zM219 440h1v5h-1zM219 24h1v5h-1zM243 440h1v5h-1zM243 24h1v5h-1zM267 440h1v5h-1zM267 24h1v5h-1zM290 436h1v9h-1zM290 24h1v9h-1zM314 440h1v5h-1zM314 24h1v5h-1zM338 440h1v5h-1zM338 24h1v5h-1zM362 440h1v5h-1zM362 24h1v5h-1zM386 440h1v5h-1zM386 24h1v5h-1zM410 436h1v9h-1zM410 24h1v9h-1zM433 440h1v5h-1zM433 24h1v5h-1zM457 440h1v5h-1zM457 24h1v5h-1zM481 440h1v5h-1zM481 24h1v5h-1zM505 440h1v5h-1zM505 24h1v5h-1zM529 436h1v9h-1zM529 24h1v9h-1zM553 440h1v5h-1zM553 24h1v5h-1zM576 440h1v5h-1zM576 24h1v5h-1zM600 440h1v5h-1zM600 24h1v5h-1zM624 440h1v5h-1zM624 24h1v5h-1zM52 444h12v1h-12zM613 444h12v1h-12zM52 412h7v1h-7zM618 412h7v1h-7zM52 394h7v1h-7zM618 394h7v1h-7zM52 381h7v1h-7zM618 381h7v1h-7zM52 371h7v1h-7zM618 371h7v1h-7zM52 362h7v1h-7zM618 362h7v1h-7zM52 355h7v1h-7zM618 355h7v1h-7zM52 349h7v1h-7zM618 349h7v1h-7zM52 344h7v1h-7zM618 344h7v1h-7zM52 339h12v1h-12zM613 339h12v1h-12zM52 307h7v1h-7zM618 307h7v1h-7zM52 289h7v1h-7zM618 289h7v1h-7zM52 276h7v1h-7zM618 276h7v1h-7zM52 266h7v1h-7zM618 266h7v1h-7zM52 257h7v1h-7zM618 257h7v1h-7zM52 250h7v1h-7zM618 250h7v1h-7zM52 244h7v1h-7zM618 244h7v1h-7zM52 239h7v1h-7zM618 239h7v1h-7zM52 234h12v1h-12zM613 234h12v1h-12zM52 202h7v1h-7zM618 202h7v1h-7zM52 184h7v1h-7zM618 184h7v1h-7zM52 171h7v1h-7zM618 171h7v1h-7zM52 161h7v1h-7zM618 161h7v1h-7zM52 152h7v1h-7zM618 152h7v1h-7zM52 145h7v1h-7zM618 145h7v1h-7zM52 139h7v1h-7zM618 139h7v1h-7zM52 134h7v1h-7zM618 134h7v1h-7zM52 129h12v1h-12zM613 129h12v1h-12zM52 97h7v1h-7zM618 97h7v1h-7zM52 79h7v1h-7zM618 79h7v1h-7zM52 66h7v1h-7zM618 66h7v1h-7zM52 56h7v1h-7zM618 56h7v1h-7zM52 47h7v1h-7zM618 47h7v1h-7zM52 40h7v1h-7zM618 40h7v1h-7zM52 34h7v1h-7zM618 34h7v1h-7zM52 29h7v1h-7zM618 29h7v1h-7z" fill="#000"/>
<path d="M164.47 12.8 164.07 12.02 163.29 11.23 162.5 10.84 160.93 10.84 160.14 11.23 159.35 12.02 158.96 12.8 158.56 13.98 158.56 15.95 158.96 17.13 159.35 17.92 160.14 18.71 160.93 19.1 162.5 19.1 163.29 18.71 164.07 17.92 164.47 17.13 164.47 15.95M162.5 15.95 164.47 15.95M169.19 10.84 168.4 11.23 167.61 12.02 167.22 12.8 166.83 13.98 166.83 15.95 167.22 17.13 167.61 17.92 168.4 18.71 169.19 19.1 170.76 19.1 171.55 18.71 172.34 17.92 172.73 17.13 173.12 15.95 173.12 13.98 172.73 12.8 172.34 12.02 171.55 11.23 170.76 10.84 169.19 10.84M175.88 10.84 175.88 19.1M175.88 10.84 180.99 10.84M175.88 14.77 179.03 14.77M175.88 19.1 180.99 19.1M188.47 12.02 187.68 11.23 186.5 10.84 184.93 10.84 183.75 11.23 182.96 12.02 182.96 12.8 183.35 13.59 183.75 13.98 184.53 14.38 186.9 15.17 187.68 15.56 188.08 15.95 188.47 16.74 188.47 17.92 187.68 18.71 186.5 19.1 184.93 19.1 183.75 18.71 182.96 17.92M199.43 10.84 198.08 11.23 197.18 12.41 196.73 14.38 196.73 15.56 197.18 17.53 198.08 18.71 199.43 19.1 200.33 19.1 201.68 18.71 202.58 17.53 203.03 15.56 203.03 14.38 202.58 12.41 201.68 11.23 200.33 10.84 199.43 10.84M205.78 18.31 205.39 18.71 205.78 19.1 206.18 18.71 205.78 18.31M210.11 12.41 210.9 12.02 212.08 10.84 212.08 19.1M217.2 15.56 224.28 15.56M229.34 10.84 227.99 11.23 227.09 12.41 226.64 14.38 226.64 15.56 227.09 17.53 227.99 18.71 229.34 19.1 230.24 19.1 231.59 18.71 232.49 17.53 232.94 15.56 232.94 14.38 232.49 12.41 231.59 11.23 230.24 10.84 229.34 10.84M235.69 18.31 235.3 18.71 235.69 19.1 236.08 18.71 235.69 18.31M240.81 10.84 239.62 11.23 239.23 12.02 239.23 12.8 239.62 13.59 240.41 13.98 241.99 14.38 243.17 14.77 243.95 15.56 244.35 16.35 244.35 17.53 243.95 18.31 243.56 18.71 242.38 19.1 240.81 19.1 239.62 18.71 239.23 18.31 238.84 17.53 238.84 16.35 239.23 15.56 240.02 14.77 241.2 14.38 242.77 13.98 243.56 13.59 243.95 12.8 243.95 12.02 243.56 11.23 242.38 10.84 240.81 10.84M247.1 13.59 247.1 19.1M247.1 15.17 248.28 13.98 249.07 13.59 250.25 13.59 251.04 13.98 251.43 15.17 251.43 19.1M254.58 13.59 254.58 19.1M254.58 15.17 255.76 13.98 256.55 13.59 257.73 13.59 258.51 13.98 258.91 15.17 258.91 19.1M258.91 15.17 260.09 13.98 260.87 13.59 262.05 13.59 262.84 13.98 263.24 15.17 263.24 19.1M275.43 9.26 274.65 10.05 273.86 11.23 273.07 12.8 272.68 14.77 272.68 16.35 273.07 18.31 273.86 19.89 274.65 21.07 275.43 21.85M278.19 13.59 278.19 19.1M278.19 15.95 278.58 14.77 279.37 13.98 280.16 13.59 281.34 13.59M282.91 15.95 287.63 15.95 287.63 15.17 287.24 14.38 286.85 13.98 286.06 13.59 284.88 13.59 284.09 13.98 283.3 14.77 282.91 15.95 282.91 16.74 283.3 17.92 284.09 18.71 284.88 19.1 286.06 19.1 286.85 18.71 287.63 17.92M294.72 10.84 294.72 19.1M294.72 14.77 293.93 13.98 293.14 13.59 291.96 13.59 291.17 13.98 290.39 14.77 289.99 15.95 289.99 16.74 290.39 17.92 291.17 18.71 291.96 19.1 293.14 19.1 293.93 18.71 294.72 17.92M297.47 9.26 298.26 10.05 299.04 11.23 299.83 12.8 300.22 14.77 300.22 16.35 299.83 18.31 299.04 19.89 298.26 21.07 297.47 21.85M304.16 18.71 303.77 19.1 303.37 18.71 303.77 18.31 304.16 18.71 304.16 19.49 303.77 20.28 303.37 20.67M313.6 10.84 313.6 19.1M313.6 19.1 318.33 19.1M319.11 10.84 322.26 14.77 322.26 19.1M325.41 10.84 322.26 14.77M327.38 10.84 327.38 19.1M327.38 10.84 330.92 10.84 332.1 11.23 332.49 11.62 332.88 12.41 332.88 13.2 332.49 13.98 332.1 14.38 330.92 14.77 327.38 14.77M330.13 14.77 332.88 19.1M337.61 10.84 334.46 19.1M337.61 10.84 340.75 19.1M335.64 16.35 339.57 16.35M350.99 10.84 347.84 19.1M350.99 10.84 354.13 19.1M349.02 16.35 352.95 16.35M356.1 10.84 356.1 19.1M368.3 9.26 367.51 10.05 366.73 11.23 365.94 12.8 365.55 14.77 365.55 16.35 365.94 18.31 366.73 19.89 367.51 21.07 368.3 21.85M371.05 10.84 371.05 19.1M371.05 14.77 371.84 13.98 372.63 13.59 373.81 13.59 374.6 13.98 375.38 14.77 375.78 15.95 375.78 16.74 375.38 17.92 374.6 18.71 373.81 19.1 372.63 19.1 371.84 18.71 371.05 17.92M378.53 10.84 378.53 19.1M381.68 13.59 381.68 17.53 382.07 18.71 382.86 19.1 384.04 19.1 384.83 18.71 386.01 17.53M386.01 13.59 386.01 19.1M388.76 15.95 393.48 15.95 393.48 15.17 393.09 14.38 392.7 13.98 391.91 13.59 390.73 13.59 389.94 13.98 389.15 14.77 388.76 15.95 388.76 16.74 389.15 17.92 389.94 18.71 390.73 19.1 391.91 19.1 392.7 18.71 393.48 17.92M395.84 9.26 396.63 10.05 397.42 11.23 398.21 12.8 398.6 14.77 398.6 16.35 398.21 18.31 397.42 19.89 396.63 21.07 395.84 21.85M415.52 14.38 415.52 13.98 415.13 13.59 414.73 13.59 414.34 13.98 413.95 14.77 413.16 16.74 412.37 17.92 411.58 18.71 410.8 19.1 409.22 19.1 408.44 18.71 408.04 18.31 407.65 17.53 407.65 16.74 408.04 15.95 408.44 15.56 411.19 13.98 411.58 13.59 411.98 12.8 411.98 12.02 411.58 11.23 410.8 10.84 410.01 11.23 409.62 12.02 409.62 12.8 410.01 13.98 410.8 15.17 412.76 17.92 413.55 18.71 414.34 19.1 415.13 19.1 415.52 18.71 415.52 18.31M429.69 10.84 424.18 19.1M424.18 10.84 429.69 10.84M424.18 19.1 429.69 19.1M432.44 13.59 432.44 19.1M432.44 15.95 432.83 14.77 433.62 13.98 434.41 13.59 435.59 13.59M446.61 9.26 445.82 10.05 445.03 11.23 444.25 12.8 443.85 14.77 443.85 16.35 444.25 18.31 445.03 19.89 445.82 21.07 446.61 21.85M453.69 13.59 453.69 19.89 453.3 21.07 452.9 21.46 452.12 21.85 450.93 21.85 450.15 21.46M453.69 14.77 452.9 13.98 452.12 13.59 450.93 13.59 450.15 13.98 449.36 14.77 448.97 15.95 448.97 16.74 449.36 17.92 450.15 18.71 450.93 19.1 452.12 19.1 452.9 18.71 453.69 17.92M456.84 13.59 456.84 19.1M456.84 15.95 457.23 14.77 458.02 13.98 458.8 13.59 459.99 13.59M461.56 15.95 466.28 15.95 466.28 15.17 465.89 14.38 465.49 13.98 464.71 13.59 463.53 13.59 462.74 13.98 461.95 14.77 461.56 15.95 461.56 16.74 461.95 17.92 462.74 18.71 463.53 19.1 464.71 19.1 465.49 18.71 466.28 17.92M468.25 13.59 470.61 19.1M472.97 13.59 470.61 19.1 469.82 20.67 469.04 21.46 468.25 21.85 467.86 21.85M474.94 9.26 475.73 10.05 476.51 11.23 477.3 12.8 477.69 14.77 477.69 16.35 477.3 18.31 476.51 19.89 475.73 21.07 474.94 21.85M487.14 13.59 487.14 21.85M487.14 14.77 487.92 13.98 488.71 13.59 489.89 13.59 490.68 13.98 491.47 14.77 491.86 15.95 491.86 16.74 491.47 17.92 490.68 18.71 489.89 19.1 488.71 19.1 487.92 18.71 487.14 17.92M494.61 13.59 494.61 19.1M494.61 15.95 495.01 14.77 495.79 13.98 496.58 13.59 497.76 13.59M501.3 13.59 500.52 13.98 499.73 14.77 499.34 15.95 499.34 16.74 499.73 17.92 500.52 18.71 501.3 19.1 502.48 19.1 503.27 18.71 504.06 17.92 504.45 16.74 504.45 15.95 504.06 14.77 503.27 13.98 502.48 13.59 501.3 13.59M506.81 13.59 511.14 19.1M511.14 13.59 506.81 19.1M513.11 13.59 515.47 19.1M517.83 13.59 515.47 19.1 514.68 20.67 513.89 21.46 513.11 21.85 512.71 21.85M52.14 451.22 51.05 451.54 50.32 452.49 49.96 454.08 49.96 455.04 50.32 456.63 51.05 457.58 52.14 457.9 52.86 457.9 53.95 457.58 54.68 456.63 55.04 455.04 55.04 454.08 54.68 452.49 53.95 451.54 52.86 451.22 52.14 451.22M173.26 451.22 170.08 451.22 169.76 454.08 170.08 453.77 171.03 453.45 171.98 453.45 172.94 453.77 173.57 454.4 173.89 455.36 173.89 455.99 173.57 456.95 172.94 457.58 171.98 457.9 171.03 457.9 170.08 457.58 169.76 457.26 169.44 456.63M286.38 452.49 287.02 452.18 287.97 451.22 287.97 457.9M293.65 451.22 292.56 451.54 291.83 452.49 291.47 454.08 291.47 455.04 291.83 456.63 292.56 457.58 293.65 457.9 294.38 457.9 295.47 457.58 296.19 456.63 296.56 455.04 296.56 454.08 296.19 452.49 295.47 451.54 294.38 451.22 293.65 451.22M405.55 452.49 406.18 452.18 407.14 451.22 407.14 457.9M414.77 451.22 411.59 451.22 411.27 454.08 411.59 453.77 412.54 453.45 413.5 453.45 414.45 453.77 415.09 454.4 415.41 455.36 415.41 455.99 415.09 456.95 414.45 457.58 413.5 457.9 412.54 457.9 411.59 457.58 411.27 457.26 410.95 456.63M524.08 452.81 524.08 452.49 524.4 451.86 524.71 451.54 525.35 451.22 526.62 451.22 527.26 451.54 527.58 451.86 527.89 452.49 527.89 453.13 527.58 453.77 526.94 454.72 523.76 457.9 528.21 457.9M531.98 451.22 530.89 451.54 530.17 452.49 529.8 454.08 529.8 455.04 530.17 456.63 530.89 457.58 531.98 457.9 532.71 457.9 533.8 457.58 534.53 456.63 534.89 455.04 534.89 454.08 534.53 452.49 533.8 451.54 532.71 451.22 531.98 451.22M269.49 463.22 269.49 469.9M267.27 463.22 271.72 463.22M272.99 463.22 273.31 463.54 273.63 463.22 273.31 462.9 272.99 463.22M273.31 465.45 273.31 469.9M275.85 465.45 275.85 469.9M275.85 466.72 276.81 465.77 277.44 465.45 278.4 465.45 279.03 465.77 279.35 466.72 279.35 469.9M279.35 466.72 280.31 465.77 280.94 465.45 281.9 465.45 282.53 465.77 282.85 466.72 282.85 469.9M285.08 467.36 288.89 467.36 288.89 466.72 288.57 466.08 288.26 465.77 287.62 465.45 286.67 465.45 286.03 465.77 285.39 466.4 285.08 467.36 285.08 467.99 285.39 468.95 286.03 469.58 286.67 469.9 287.62 469.9 288.26 469.58 288.89 468.95M301.29 461.95 295.57 472.13M308.29 463.22 308.29 469.9M308.29 466.72 309.24 465.77 309.88 465.45 310.83 465.45 311.47 465.77 311.79 466.72 311.79 469.9M319.42 463.22 319.42 467.99 319.74 468.95 320.37 469.58 321.33 469.9 321.96 469.9 322.92 469.58 323.55 468.95 323.87 467.99 323.87 463.22M327.69 463.22 327.69 469.9M325.46 463.22 329.91 463.22M335.96 464.81 335.64 464.18 335 463.54 334.37 463.22 333.09 463.22 332.46 463.54 331.82 464.18 331.5 464.81 331.19 465.77 331.19 467.36 331.5 468.31 331.82 468.95 332.46 469.58 333.09 469.9 334.37 469.9 335 469.58 335.64 468.95 335.96 468.31M338.82 469.58 338.5 469.9 338.18 469.58 338.5 469.26 338.82 469.58 338.82 470.22 338.5 470.85 338.18 471.17M347.09 464.49 347.72 464.18 348.68 463.22 348.68 469.9M355.67 463.22 352.49 467.67 357.26 467.67M355.67 463.22 355.67 469.9M365.85 463.22 365.21 463.54 364.58 464.18 364.26 464.81 363.94 465.77 363.94 467.36 364.26 468.31 364.58 468.95 365.21 469.58 365.85 469.9 367.12 469.9 367.76 469.58 368.39 468.95 368.71 468.31 369.03 467.36 369.03 465.77 368.71 464.81 368.39 464.18 367.76 463.54 367.12 463.22 365.85 463.22M374.75 466.4 374.12 465.77 373.48 465.45 372.53 465.45 371.89 465.77 371.25 466.4 370.94 467.36 370.94 467.99 371.25 468.95 371.89 469.58 372.53 469.9 373.48 469.9 374.12 469.58 374.75 468.95M377.3 463.22 377.3 468.63 377.61 469.58 378.25 469.9 378.89 469.9M376.34 465.45 378.57 465.45M385.88 464.81 385.88 464.49 386.2 463.86 386.52 463.54 387.15 463.22 388.43 463.22 389.06 463.54 389.38 463.86 389.7 464.49 389.7 465.13 389.38 465.77 388.74 466.72 385.56 469.9 390.02 469.9M393.79 463.22 392.7 463.54 391.97 464.49 391.61 466.08 391.61 467.04 391.97 468.63 392.7 469.58 393.79 469.9 394.51 469.9 395.6 469.58 396.33 468.63 396.69 467.04 396.69 466.08 396.33 464.49 395.6 463.54 394.51 463.22 393.79 463.22M398.6 464.81 398.6 464.49 398.92 463.86 399.24 463.54 399.87 463.22 401.15 463.22 401.78 463.54 402.1 463.86 402.42 464.49 402.42 465.13 402.1 465.77 401.46 466.72 398.28 469.9 402.74 469.9M405.6 464.49 406.23 464.18 407.19 463.22 407.19 469.9M489.64 487.46 489.64 494.5M489.64 487.46 492.66 487.46 493.66 487.8 494 488.13 494.33 488.81 494.33 489.48 494 490.14 493.66 490.48 492.66 490.81 489.64 490.81M491.99 490.81 494.33 494.5M498.35 487.46 497.68 487.8 497.01 488.47 496.68 489.14 496.34 490.14 496.34 491.82 496.68 492.82 497.01 493.5 497.68 494.17 498.35 494.5 499.69 494.5 500.36 494.17 501.03 493.5 501.37 492.82 501.7 491.82 501.7 490.14 501.37 489.14 501.03 488.47 500.36 487.8 499.69 487.46 498.35 487.46M504.05 487.46 504.05 494.5M504.05 487.46 507.06 487.46 508.06 487.8 508.4 488.13 508.74 488.81 508.74 489.48 508.4 490.14 508.06 490.48 507.06 490.81M504.05 490.81 507.06 490.81 508.06 491.15 508.4 491.49 508.74 492.15 508.74 493.16 508.4 493.83 508.06 494.17 507.06 494.5 504.05 494.5M516.44 486.12 510.41 496.85M522.81 488.47 522.13 487.8 521.13 487.46 519.79 487.46 518.78 487.8 518.12 488.47 518.12 489.14 518.45 489.81 518.78 490.14 519.46 490.48 521.47 491.15 522.13 491.49 522.47 491.82 522.81 492.49 522.81 493.5 522.13 494.17 521.13 494.5 519.79 494.5 518.78 494.17 518.12 493.5M525.15 487.46 525.15 494.5M527.83 487.46 527.83 494.5M527.83 487.46 530.17 487.46 531.18 487.8 531.85 488.47 532.19 489.14 532.52 490.14 532.52 491.82 532.19 492.82 531.85 493.5 531.18 494.17 530.17 494.5 527.83 494.5M539.56 489.14 539.22 488.47 538.55 487.8 537.88 487.46 536.54 487.46 535.87 487.8 535.2 488.47 534.87 489.14 534.53 490.14 534.53 491.82 534.87 492.82 535.2 493.5 535.87 494.17 536.54 494.5 537.88 494.5 538.55 494.17 539.22 493.5 539.56 492.82M542.57 494.17 542.24 494.5 541.9 494.17 542.24 493.83 542.57 494.17 542.57 494.83 542.24 495.5 541.9 495.84M550.61 487.46 550.61 494.5M550.61 487.46 553.62 487.46 554.63 487.8 554.97 488.13 555.3 488.81 555.3 489.48 554.97 490.14 554.63 490.48 553.62 490.81M550.61 490.81 553.62 490.81 554.63 491.15 554.97 491.49 555.3 492.15 555.3 493.16 554.97 493.83 554.63 494.17 553.62 494.5 550.61 494.5M557.64 489.81 557.64 494.5M557.64 491.82 557.98 490.81 558.65 490.14 559.32 489.81 560.33 489.81M562 489.81 562 493.16 562.34 494.17 563 494.5 564.01 494.5 564.68 494.17 565.69 493.16M565.69 489.81 565.69 494.5M571.72 490.81 571.38 490.14 570.38 489.81 569.37 489.81 568.37 490.14 568.03 490.81 568.37 491.49 569.03 491.82 570.71 492.15 571.38 492.49 571.72 493.16 571.72 493.5 571.38 494.17 570.38 494.5 569.37 494.5 568.37 494.17 568.03 493.5M577.41 490.81 577.08 490.14 576.07 489.81 575.07 489.81 574.06 490.14 573.73 490.81 574.06 491.49 574.73 491.82 576.4 492.15 577.08 492.49 577.41 493.16 577.41 493.5 577.08 494.17 576.07 494.5 575.07 494.5 574.06 494.17 573.73 493.5M579.42 491.82 583.44 491.82 583.44 491.15 583.11 490.48 582.77 490.14 582.1 489.81 581.1 489.81 580.42 490.14 579.75 490.81 579.42 491.82 579.42 492.49 579.75 493.5 580.42 494.17 581.1 494.5 582.1 494.5 582.77 494.17 583.44 493.5M585.78 487.46 585.78 494.5M591.82 490.81 591.48 490.14 590.48 489.81 589.47 489.81 588.47 490.14 588.13 490.81 588.47 491.49 589.13 491.82 590.81 492.15 591.48 492.49 591.82 493.16 591.82 493.5 591.48 494.17 590.48 494.5 589.47 494.5 588.47 494.17 588.13 493.5M594.83 494.17 594.5 494.5 594.16 494.17 594.5 493.83 594.83 494.17 594.83 494.83 594.5 495.5 594.16 495.84M602.87 487.46 602.87 494.5M602.87 487.46 605.88 487.46 606.89 487.8 607.23 488.13 607.56 488.81 607.56 489.48 607.23 490.14 606.89 490.48 605.88 490.81M602.87 490.81 605.88 490.81 606.89 491.15 607.23 491.49 607.56 492.15 607.56 493.16 607.23 493.83 606.89 494.17 605.88 494.5 602.87 494.5M609.57 491.82 613.59 491.82 613.59 491.15 613.25 490.48 612.92 490.14 612.25 489.81 611.25 489.81 610.58 490.14 609.9 490.81 609.57 491.82 609.57 492.49 609.9 493.5 610.58 494.17 611.25 494.5 612.25 494.5 612.92 494.17 613.59 493.5M615.94 487.46 615.94 494.5M622.3 489.81 622.3 495.17 621.97 496.18 621.63 496.51 620.96 496.85 619.96 496.85 619.29 496.51M622.3 490.81 621.63 490.14 620.96 489.81 619.96 489.81 619.29 490.14 618.62 490.81 618.28 491.82 618.28 492.49 618.62 493.5 619.29 494.17 619.96 494.5 620.96 494.5 621.63 494.17 622.3 493.5M624.64 487.46 624.98 487.8 625.32 487.46 624.98 487.13 624.64 487.46M624.98 489.81 624.98 494.5M627.66 489.81 627.66 493.16 628 494.17 628.66 494.5 629.67 494.5 630.34 494.17 631.35 493.16M631.35 489.81 631.35 494.5M634.03 489.81 634.03 494.5M634.03 491.15 635.03 490.14 635.7 489.81 636.71 489.81 637.38 490.14 637.71 491.15 637.71 494.5M637.71 491.15 638.72 490.14 639.38 489.81 640.39 489.81 641.06 490.14 641.39 491.15 641.39 494.5M632.34 72.47 632.34 79.5M632.34 72.47 635.02 79.5M637.7 72.47 635.02 79.5M637.7 72.47 637.7 79.5M637.03 179.14 636.7 178.47 636.02 177.8 635.36 177.47 634.01 177.47 633.35 177.8 632.67 178.47 632.34 179.14 632 180.15 632 181.82 632.34 182.82 632.67 183.5 633.35 184.16 634.01 184.5 635.36 184.5 636.02 184.16 636.7 183.5 637.03 182.82M632.34 282.46 632.34 289.5M632.34 282.46 635.36 282.46 636.36 282.8 636.7 283.13 637.03 283.81 637.03 284.48 636.7 285.14 636.36 285.48 635.36 285.81M632.34 285.81 635.36 285.81 636.36 286.15 636.7 286.49 637.03 287.15 637.03 288.16 636.7 288.83 636.36 289.17 635.36 289.5 632.34 289.5M634.01 387.46 631.34 394.5M634.01 387.46 636.7 394.5M632.34 392.15 635.69 392.15M43.15 24.03 46.74 24.03M48.86 22.08 47.23 24.36 49.67 24.36M48.86 22.08 48.86 25.5M34.24 25.42 34.72 25.18 35.44 24.46 35.44 29.5M39.73 24.46 38.9 24.7 38.35 25.42 38.08 26.62 38.08 27.34 38.35 28.54 38.9 29.26 39.73 29.5 40.27 29.5 41.1 29.26 41.65 28.54 41.92 27.34 41.92 26.62 41.65 25.42 41.1 24.7 40.27 24.46 39.73 24.46M43.15 127.03 46.74 127.03M49.19 125.08 47.55 125.08 47.39 126.54 47.55 126.38 48.04 126.22 48.53 126.22 49.02 126.38 49.35 126.71 49.51 127.2 49.51 127.52 49.35 128.01 49.02 128.34 48.53 128.5 48.04 128.5 47.55 128.34 47.39 128.17 47.23 127.85M34.24 128.42 34.72 128.18 35.44 127.46 35.44 132.5M39.73 127.46 38.9 127.7 38.35 128.42 38.08 129.62 38.08 130.34 38.35 131.54 38.9 132.26 39.73 132.5 40.27 132.5 41.1 132.26 41.65 131.54 41.92 130.34 41.92 129.62 41.65 128.42 41.1 127.7 40.27 127.46 39.73 127.46M43.15 232.03 46.74 232.03M49.35 230.57 49.19 230.24 48.7 230.08 48.37 230.08 47.88 230.24 47.55 230.73 47.39 231.54 47.39 232.36 47.55 233.01 47.88 233.34 48.37 233.5 48.53 233.5 49.02 233.34 49.35 233.01 49.51 232.52 49.51 232.36 49.35 231.87 49.02 231.54 48.53 231.38 48.37 231.38 47.88 231.54 47.55 231.87 47.39 232.36M34.24 233.42 34.72 233.18 35.44 232.46 35.44 237.5M39.73 232.46 38.9 232.7 38.35 233.42 38.08 234.62 38.08 235.34 38.35 236.54 38.9 237.26 39.73 237.5 40.27 237.5 41.1 237.26 41.65 236.54 41.92 235.34 41.92 234.62 41.65 233.42 41.1 232.7 40.27 232.46 39.73 232.46M43.15 337.03 46.74 337.03M49.51 335.08 47.88 338.5M47.23 335.08 49.51 335.08M34.24 338.42 34.72 338.18 35.44 337.46 35.44 342.5M39.73 337.46 38.9 337.7 38.35 338.42 38.08 339.62 38.08 340.34 38.35 341.54 38.9 342.26 39.73 342.5 40.27 342.5 41.1 342.26 41.65 341.54 41.92 340.34 41.92 339.62 41.65 338.42 41.1 337.7 40.27 337.46 39.73 337.46M43.15 439.03 46.74 439.03M48.04 437.08 47.55 437.24 47.39 437.57 47.39 437.89 47.55 438.22 47.88 438.38 48.53 438.54 49.02 438.71 49.35 439.03 49.51 439.36 49.51 439.85 49.35 440.17 49.19 440.34 48.7 440.5 48.04 440.5 47.55 440.34 47.39 440.17 47.23 439.85 47.23 439.36 47.39 439.03 47.72 438.71 48.21 438.54 48.86 438.38 49.19 438.22 49.35 437.89 49.35 437.57 49.19 437.24 48.7 437.08 48.04 437.08M34.24 440.42 34.72 440.18 35.44 439.46 35.44 444.5M39.73 439.46 38.9 439.7 38.35 440.42 38.08 441.62 38.08 442.34 38.35 443.54 38.9 444.26 39.73 444.5 40.27 444.5 41.1 444.26 41.65 443.54 41.92 442.34 41.92 441.62 41.65 440.42 41.1 439.7 40.27 439.46 39.73 439.46M21.77 285.12 21.26 285.37 20.76 285.87 20.51 286.38 20.51 287.39 20.76 287.89 21.26 288.39 21.77 288.65 22.52 288.9 23.78 288.9 24.54 288.65 25.04 288.39 25.55 287.89 25.8 287.39 25.8 286.38 25.55 285.87 25.04 285.37 24.54 285.12 23.78 285.12M23.78 286.38 23.78 285.12M20.51 282.09 20.76 282.6 21.26 283.1 21.77 283.35 22.52 283.61 23.78 283.61 24.54 283.35 25.04 283.1 25.55 282.6 25.8 282.09 25.8 281.09 25.55 280.58 25.04 280.08 24.54 279.83 23.78 279.57 22.52 279.57 21.77 279.83 21.26 280.08 20.76 280.58 20.51 281.09 20.51 282.09M20.51 277.81 25.8 277.81M20.51 277.81 20.51 274.53M23.03 277.81 23.03 275.79M25.8 277.81 25.8 274.53M21.26 269.75 20.76 270.25 20.51 271 20.51 272.01 20.76 272.77 21.26 273.27 21.77 273.27 22.27 273.02 22.52 272.77 22.78 272.27 23.28 270.75 23.53 270.25 23.78 270 24.29 269.75 25.04 269.75 25.55 270.25 25.8 271 25.8 272.01 25.55 272.77 25.04 273.27M20.51 263.95 25.8 263.95M22.27 261.93 25.8 261.93M23.78 261.93 23.03 261.68 22.52 261.18 22.27 260.67 22.27 259.92M22.27 258.66 25.8 258.66M23.78 258.66 23.03 258.41 22.52 257.9 22.27 257.4 22.27 256.64M22.27 252.61 25.8 252.61M23.03 252.61 22.52 253.11 22.27 253.62 22.27 254.37 22.52 254.88 23.03 255.38 23.78 255.63 24.29 255.63 25.04 255.38 25.55 254.88 25.8 254.37 25.8 253.62 25.55 253.11 25.04 252.61M20.51 247.82 25.8 247.82M23.03 247.82 22.52 248.33 22.27 248.83 22.27 249.59 22.52 250.09 23.03 250.59 23.78 250.85 24.29 250.85 25.04 250.59 25.55 250.09 25.8 249.59 25.8 248.83 25.55 248.33 25.04 247.82M20.51 246.06 20.76 245.81 20.51 245.55 20.26 245.81 20.51 246.06M22.27 245.81 25.8 245.81M22.27 241.02 25.8 241.02M23.03 241.02 22.52 241.52 22.27 242.03 22.27 242.78 22.52 243.29 23.03 243.79 23.78 244.04 24.29 244.04 25.04 243.79 25.55 243.29 25.8 242.78 25.8 242.03 25.55 241.52 25.04 241.02M22.27 239 25.8 239M23.28 239 22.52 238.25 22.27 237.74 22.27 236.99 22.52 236.48 23.28 236.23 25.8 236.23M23.03 231.44 22.52 231.95 22.27 232.45 22.27 233.21 22.52 233.71 23.03 234.21 23.78 234.47 24.29 234.47 25.04 234.21 25.55 233.71 25.8 233.21 25.8 232.45 25.55 231.95 25.04 231.44M23.78 229.93 23.78 226.91 23.28 226.91 22.78 227.16 22.52 227.41 22.27 227.91 22.27 228.67 22.52 229.17 23.03 229.68 23.78 229.93 24.29 229.93 25.04 229.68 25.55 229.17 25.8 228.67 25.8 227.91 25.55 227.41 25.04 226.91M19.5 217.08 27.56 221.61M19.5 209.77 20 210.27 20.76 210.78 21.77 211.28 23.03 211.53 24.04 211.53 25.3 211.28 26.3 210.78 27.06 210.27 27.56 209.77M20.51 208.51 25.8 207.25M20.51 205.99 25.8 207.25M20.51 205.99 25.8 204.73M20.51 203.47 25.8 204.73M22.27 197.93 25.8 197.93M23.28 197.93 22.52 197.17 22.27 196.67 22.27 195.91 22.52 195.41 23.28 195.15 25.8 195.15M23.28 195.15 22.52 194.4 22.27 193.89 22.27 193.14 22.52 192.63 23.28 192.38 25.8 192.38M20.03 190.72 20.03 187.14M18.89 186.48 18.73 186.48 18.4 186.32 18.24 186.16 18.08 185.83 18.08 185.18 18.24 184.85 18.4 184.69 18.73 184.53 19.05 184.53 19.38 184.69 19.87 185.02 21.5 186.65 21.5 184.36M19.5 183.12 20 182.62 20.76 182.11 21.77 181.61 23.03 181.36 24.04 181.36 25.3 181.61 26.3 182.11 27.06 182.62 27.56 183.12" fill="none" stroke="#000" stroke-width="1" stroke-linecap="round" stroke-linejoin="round"/>
</svg>
</body></html>
